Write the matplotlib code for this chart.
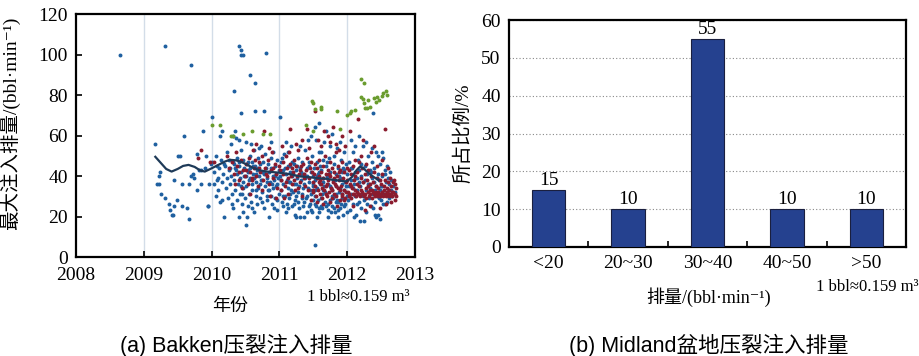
import matplotlib
matplotlib.use("Agg")
import matplotlib.pyplot as plt

plt.rcParams["font.family"] = ["Liberation Serif", "Noto Sans CJK SC", "DejaVu Serif"]

# ===== Data: (a) Bakken max injection rate by year =====
blue_points = [
    # 2008-2010
    (2008.65, 100), (2009.31, 104), (2009.69, 95), (2009.16, 56), (2009.60, 60), (2009.87, 62),
    (2009.51, 50), (2009.53, 50), (2009.78, 51), (2009.92, 50), (2009.24, 42), (2009.23, 40),
    (2009.44, 38), (2009.57, 36), (2009.66, 36), (2009.70, 40), (2009.72, 41), (2009.74, 39),
    (2009.84, 43), (2009.81, 43), (2009.85, 36), (2009.79, 33), (2009.23, 36), (2009.26, 31),
    (2009.31, 29), (2009.49, 28), (2009.45, 25), (2009.57, 25), (2009.63, 24), (2009.38, 23),
    (2009.42, 21), (2009.67, 19), (2009.94, 25), (2009.96, 36), (2009.95, 25), (2009.43, 21),
    (2009.37, 26), (2009.20, 36), (2009.90, 44), (2009.99, 46), (2010.00, 69),
    # 2010-2011
    (2010.40, 104), (2010.43, 102), (2010.46, 100), (2010.44, 100), (2010.80, 101), (2010.56, 90),
    (2010.64, 86), (2010.33, 82), (2010.44, 71), (2010.64, 72), (2010.77, 72), (2010.50, 16),
    (2010.18, 20), (2010.40, 20), (2010.08, 45), (2010.08, 38),
    (2010.01, 47), (2010.03, 36), (2010.04, 42), (2010.06, 30), (2010.07, 50), (2010.09, 39),
    (2010.10, 33), (2010.11, 44), (2010.13, 27), (2010.14, 48), (2010.15, 37), (2010.17, 41),
    (2010.19, 46), (2010.21, 34), (2010.22, 52), (2010.23, 39), (2010.24, 29), (2010.26, 43),
    (2010.27, 36), (2010.28, 56), (2010.29, 40), (2010.30, 31), (2010.31, 47), (2010.32, 24),
    (2010.33, 38), (2010.34, 44), (2010.35, 33), (2010.36, 59), (2010.37, 41), (2010.38, 28),
    (2010.38, 49), (2010.39, 36), (2010.41, 45), (2010.42, 39), (2010.42, 31), (2010.43, 53),
    (2010.44, 42), (2010.45, 26), (2010.46, 37), (2010.47, 48), (2010.47, 34), (2010.48, 44),
    (2010.49, 29), (2010.50, 40), (2010.51, 57), (2010.51, 35), (2010.52, 46), (2010.53, 25),
    (2010.54, 42), (2010.55, 38), (2010.55, 31), (2010.56, 50), (2010.57, 44), (2010.58, 27),
    (2010.59, 36), (2010.59, 47), (2010.60, 33), (2010.61, 41), (2010.62, 22), (2010.63, 39),
    (2010.63, 53), (2010.64, 45), (2010.65, 30), (2010.66, 37), (2010.67, 43), (2010.67, 26),
    (2010.68, 49), (2010.69, 34), (2010.70, 40), (2010.71, 46), (2010.71, 29), (2010.72, 36),
    (2010.73, 55), (2010.74, 42), (2010.75, 32), (2010.75, 38), (2010.76, 47), (2010.77, 24),
    (2010.78, 41), (2010.79, 35), (2010.79, 51), (2010.80, 44), (2010.81, 28), (2010.82, 39),
    (2010.83, 33), (2010.83, 46), (2010.84, 20), (2010.85, 42), (2010.86, 37), (2010.87, 49),
    (2010.87, 30), (2010.88, 44), (2010.89, 26), (2010.90, 40), (2010.91, 34), (2010.91, 52),
    (2010.92, 38), (2010.93, 45), (2010.94, 29), (2010.95, 41), (2010.95, 35), (2010.96, 48),
    (2010.97, 23), (2010.98, 39), (2010.99, 43), (2010.99, 31),
    (2010.20, 45), (2010.25, 48), (2010.27, 44), (2010.33, 46), (2010.36, 43), (2010.40, 47),
    (2010.44, 35), (2010.48, 40), (2010.53, 43), (2010.57, 39), (2010.61, 45), (2010.65, 41),
    (2010.69, 44), (2010.73, 38), (2010.77, 42), (2010.81, 37), (2010.85, 33), (2010.89, 36),
    (2010.93, 40), (2010.97, 36), (2010.12, 60), (2010.16, 62), (2010.32, 60), (2010.35, 62),
    (2010.41, 58), (2010.58, 56), (2010.70, 54), (2010.88, 57), (2010.15, 28), (2010.46, 22),
    (2010.52, 20), (2010.74, 27), (2010.92, 24), (2010.60, 24), (2010.30, 26), (2010.82, 30),
    (2010.96, 28), (2010.45, 31), (2010.66, 33), (2010.54, 47),
    # 2011-2011.5
    (2011.01, 69), (2011.01, 40), (2011.02, 33), (2011.03, 47), (2011.04, 27), (2011.05, 43),
    (2011.06, 36), (2011.07, 51), (2011.08, 30), (2011.09, 41), (2011.10, 22), (2011.11, 38),
    (2011.12, 45), (2011.13, 34), (2011.14, 29), (2011.15, 42), (2011.16, 37), (2011.17, 55),
    (2011.18, 25), (2011.19, 40), (2011.20, 32), (2011.21, 46), (2011.22, 36), (2011.23, 21),
    (2011.24, 43), (2011.25, 30), (2011.26, 39), (2011.27, 49), (2011.28, 27), (2011.29, 35),
    (2011.30, 44), (2011.31, 20), (2011.32, 38), (2011.33, 31), (2011.34, 47), (2011.35, 25),
    (2011.36, 41), (2011.37, 36), (2011.38, 53), (2011.39, 29), (2011.40, 40), (2011.41, 22),
    (2011.42, 34), (2011.43, 45), (2011.44, 37), (2011.45, 26), (2011.46, 42), (2011.47, 31),
    (2011.48, 50), (2011.49, 35), (2011.50, 28), (2011.02, 38), (2011.05, 30), (2011.08, 44),
    (2011.11, 26), (2011.14, 37), (2011.17, 33), (2011.20, 41), (2011.23, 28), (2011.26, 45),
    (2011.29, 24), (2011.32, 42), (2011.35, 34), (2011.38, 39), (2011.41, 30), (2011.44, 47),
    (2011.47, 23), (2011.04, 49), (2011.09, 57), (2011.13, 24), (2011.19, 47), (2011.22, 26),
    (2011.28, 32), (2011.33, 41), (2011.37, 27), (2011.40, 44), (2011.45, 33), (2011.49, 40),
    (2011.06, 25), (2011.16, 31), (2011.25, 36), (2011.34, 29), (2011.43, 25), (2011.12, 52),
    (2011.30, 55), (2011.42, 58), (2011.46, 60), (2011.24, 20), (2011.36, 20), (2011.48, 22),
    (2011.15, 45),
    # 2011.5-2012
    (2011.53, 6), (2011.51, 44), (2011.52, 30), (2011.53, 38), (2011.54, 25), (2011.55, 47),
    (2011.56, 34), (2011.57, 41), (2011.58, 22), (2011.59, 52), (2011.60, 36), (2011.61, 29),
    (2011.62, 43), (2011.63, 24), (2011.64, 39), (2011.65, 33), (2011.66, 57), (2011.67, 27),
    (2011.68, 45), (2011.69, 31), (2011.70, 40), (2011.71, 23), (2011.72, 36), (2011.73, 49),
    (2011.74, 28), (2011.75, 42), (2011.76, 34), (2011.77, 61), (2011.78, 25), (2011.79, 38),
    (2011.80, 46), (2011.81, 30), (2011.82, 22), (2011.83, 41), (2011.84, 35), (2011.85, 54),
    (2011.86, 27), (2011.87, 44), (2011.88, 32), (2011.89, 24), (2011.90, 39), (2011.91, 48),
    (2011.92, 29), (2011.93, 36), (2011.94, 21), (2011.95, 43), (2011.96, 33), (2011.97, 26),
    (2011.98, 46), (2011.99, 30), (2011.50, 36), (2011.52, 26), (2011.55, 40), (2011.57, 28),
    (2011.60, 45), (2011.62, 25), (2011.65, 37), (2011.67, 32), (2011.70, 47), (2011.72, 26),
    (2011.75, 35), (2011.77, 30), (2011.80, 24), (2011.82, 38), (2011.85, 28), (2011.87, 23),
    (2011.90, 34), (2011.92, 42), (2011.95, 25), (2011.97, 37), (2011.99, 22), (2011.53, 33),
    (2011.58, 42), (2011.63, 31), (2011.68, 25), (2011.73, 41), (2011.78, 33), (2011.83, 27),
    (2011.88, 40), (2011.93, 31), (2011.98, 35), (2011.54, 58), (2011.61, 52), (2011.69, 62),
    (2011.74, 55), (2011.81, 50), (2011.89, 57), (2011.96, 52), (2011.56, 20), (2011.71, 20),
    (2011.86, 20), (2011.64, 48), (2011.79, 29), (2011.94, 44), (2011.59, 24), (2011.76, 22),
    (2011.91, 26), (2011.66, 35), (2011.84, 31), (2011.52, 64), (2011.58, 66),
    # 2012-2012.7
    (2012.00, 41), (2012.01, 28), (2012.02, 35), (2012.03, 47), (2012.04, 23), (2012.05, 38),
    (2012.06, 31), (2012.07, 44), (2012.08, 26), (2012.09, 52), (2012.10, 36), (2012.11, 30),
    (2012.12, 42), (2012.13, 21), (2012.14, 39), (2012.15, 33), (2012.16, 48), (2012.17, 27),
    (2012.18, 43), (2012.19, 35), (2012.20, 24), (2012.21, 40), (2012.22, 31), (2012.23, 55),
    (2012.24, 37), (2012.25, 28), (2012.26, 45), (2012.27, 33), (2012.28, 22), (2012.29, 41),
    (2012.30, 36), (2012.31, 50), (2012.32, 29), (2012.33, 43), (2012.34, 34), (2012.35, 25),
    (2012.36, 39), (2012.37, 47), (2012.38, 31), (2012.39, 37), (2012.40, 44), (2012.41, 27),
    (2012.42, 35), (2012.43, 52), (2012.44, 30), (2012.45, 41), (2012.46, 21), (2012.47, 38),
    (2012.48, 33), (2012.49, 46), (2012.50, 28), (2012.51, 40), (2012.52, 35), (2012.53, 49),
    (2012.54, 31), (2012.55, 43), (2012.56, 26), (2012.57, 37), (2012.58, 45), (2012.59, 32),
    (2012.60, 39), (2012.61, 29), (2012.62, 36), (2012.63, 42), (2012.64, 33), (2012.65, 38),
    (2012.66, 30), (2012.68, 35), (2012.70, 32), (2012.02, 30), (2012.05, 44), (2012.08, 34),
    (2012.11, 39), (2012.14, 26), (2012.17, 37), (2012.20, 46), (2012.23, 30), (2012.26, 38),
    (2012.29, 26), (2012.32, 36), (2012.35, 42), (2012.38, 24), (2012.41, 33), (2012.44, 39),
    (2012.47, 29), (2012.50, 35), (2012.53, 26), (2012.56, 41), (2012.59, 27), (2012.62, 33),
    (2012.06, 58), (2012.12, 55), (2012.18, 60), (2012.27, 57), (2012.36, 54), (2012.45, 50),
    (2012.52, 52), (2012.42, 20), (2012.48, 19), (2012.10, 20), (2012.19, 18), (2012.25, 18),
    (2012.41, 21), (2012.38, 71),
]

red_points = [
    (2009.84, 53), (2009.98, 47), (2009.80, 49), (2010.03, 47),
    # 2010-2011
    (2010.22, 50), (2010.26, 44), (2010.30, 47), (2010.33, 41), (2010.36, 52), (2010.38, 45),
    (2010.41, 38), (2010.44, 48), (2010.46, 43), (2010.49, 40), (2010.51, 46), (2010.53, 36),
    (2010.55, 49), (2010.57, 42), (2010.59, 38), (2010.61, 53), (2010.63, 44), (2010.65, 56),
    (2010.66, 40), (2010.68, 35), (2010.70, 47), (2010.72, 42), (2010.74, 50), (2010.76, 38),
    (2010.77, 62), (2010.79, 44), (2010.81, 40), (2010.83, 48), (2010.85, 36), (2010.87, 43),
    (2010.89, 52), (2010.91, 39), (2010.93, 46), (2010.95, 41), (2010.97, 34), (2010.99, 45),
    (2010.40, 42), (2010.50, 43), (2010.60, 39), (2010.70, 44), (2010.80, 41), (2010.90, 44),
    (2010.45, 34), (2010.56, 31), (2010.75, 33), (2010.86, 30), (2010.95, 29), (2010.34, 36),
    (2010.64, 48), (2010.84, 54),
    # 2011-2011.5
    (2011.01, 43), (2011.03, 38), (2011.05, 47), (2011.06, 41), (2011.08, 35), (2011.10, 50),
    (2011.11, 44), (2011.13, 39), (2011.15, 63), (2011.16, 46), (2011.18, 36), (2011.20, 42),
    (2011.21, 48), (2011.23, 33), (2011.25, 45), (2011.26, 40), (2011.28, 53), (2011.30, 37),
    (2011.31, 43), (2011.33, 30), (2011.35, 46), (2011.36, 41), (2011.38, 35), (2011.40, 49),
    (2011.41, 63), (2011.43, 39), (2011.45, 44), (2011.46, 28), (2011.48, 42), (2011.50, 37),
    (2011.02, 33), (2011.07, 29), (2011.12, 31), (2011.17, 40), (2011.22, 38), (2011.27, 34),
    (2011.32, 45), (2011.37, 39), (2011.42, 33), (2011.47, 47), (2011.04, 55), (2011.14, 52),
    (2011.24, 56), (2011.34, 58), (2011.44, 54), (2011.09, 37), (2011.19, 44), (2011.29, 41),
    (2011.39, 43), (2011.49, 32), (2011.53, 72),
    # 2011.5-2012
    (2011.51, 41), (2011.52, 35), (2011.53, 46), (2011.54, 30), (2011.55, 39), (2011.56, 44),
    (2011.57, 33), (2011.58, 48), (2011.59, 37), (2011.60, 31), (2011.61, 42), (2011.62, 36),
    (2011.63, 29), (2011.64, 45), (2011.65, 39), (2011.66, 33), (2011.67, 50), (2011.68, 41),
    (2011.69, 35), (2011.70, 30), (2011.71, 43), (2011.72, 38), (2011.73, 32), (2011.74, 47),
    (2011.75, 40), (2011.76, 34), (2011.77, 29), (2011.78, 44), (2011.79, 37), (2011.80, 31),
    (2011.81, 42), (2011.82, 36), (2011.83, 52), (2011.84, 30), (2011.85, 40), (2011.86, 34),
    (2011.87, 45), (2011.88, 38), (2011.89, 28), (2011.90, 43), (2011.91, 35), (2011.92, 31),
    (2011.93, 47), (2011.94, 39), (2011.95, 33), (2011.96, 42), (2011.97, 29), (2011.98, 37),
    (2011.99, 44), (2011.50, 33), (2011.55, 27), (2011.60, 38), (2011.65, 26), (2011.70, 36),
    (2011.75, 27), (2011.80, 39), (2011.85, 25), (2011.90, 33), (2011.95, 28), (2011.58, 40),
    (2011.63, 34), (2011.68, 31), (2011.73, 41), (2011.78, 33), (2011.83, 35), (2011.88, 42),
    (2011.93, 30), (2011.98, 32), (2011.57, 58), (2011.66, 62), (2011.72, 60), (2011.79, 64),
    (2011.84, 56), (2011.92, 60), (2011.97, 55), (2011.62, 55), (2011.75, 57), (2011.88, 53),
    # 2012-2012.72
    (2012.00, 38), (2012.01, 32), (2012.02, 43), (2012.03, 30), (2012.04, 36), (2012.05, 41),
    (2012.06, 29), (2012.07, 34), (2012.08, 45), (2012.09, 31), (2012.10, 38), (2012.11, 33),
    (2012.12, 40), (2012.13, 30), (2012.14, 36), (2012.15, 42), (2012.16, 31), (2012.17, 47),
    (2012.18, 35), (2012.19, 30), (2012.20, 39), (2012.21, 33), (2012.22, 44), (2012.23, 31),
    (2012.24, 37), (2012.25, 30), (2012.26, 41), (2012.27, 34), (2012.28, 29), (2012.29, 38),
    (2012.30, 32), (2012.31, 43), (2012.32, 30), (2012.33, 36), (2012.34, 31), (2012.35, 40),
    (2012.36, 33), (2012.37, 29), (2012.38, 37), (2012.39, 31), (2012.40, 42), (2012.41, 30),
    (2012.42, 35), (2012.43, 32), (2012.44, 39), (2012.45, 30), (2012.46, 34), (2012.47, 31),
    (2012.48, 38), (2012.49, 30), (2012.50, 36), (2012.51, 32), (2012.52, 41), (2012.53, 30),
    (2012.54, 35), (2012.55, 31), (2012.56, 38), (2012.57, 30), (2012.58, 34), (2012.59, 31),
    (2012.60, 37), (2012.61, 30), (2012.62, 33), (2012.63, 39), (2012.64, 31), (2012.65, 35),
    (2012.66, 30), (2012.67, 37), (2012.68, 32), (2012.69, 38), (2012.70, 31), (2012.71, 36),
    (2012.72, 34), (2012.72, 30), (2012.70, 28), (2012.02, 31), (2012.06, 35), (2012.10, 31),
    (2012.14, 32), (2012.18, 31), (2012.22, 32), (2012.26, 31), (2012.30, 35), (2012.34, 33),
    (2012.38, 32), (2012.42, 31), (2012.46, 32), (2012.50, 31), (2012.54, 33), (2012.58, 32),
    (2012.62, 31), (2012.66, 32), (2012.12, 48), (2012.20, 50), (2012.28, 46), (2012.35, 52),
    (2012.44, 45), (2012.52, 48), (2012.60, 44), (2012.16, 68), (2012.04, 62), (2012.24, 58),
    (2012.40, 55), (2012.56, 63), (2012.08, 25), (2012.26, 23), (2012.33, 25), (2012.48, 24),
    (2012.57, 26), (2012.64, 27),
]

green_points = [
    (2010.01, 65), (2010.12, 65), (2010.29, 60), (2010.32, 60), (2010.47, 61), (2010.60, 62),
    (2010.76, 61), (2010.86, 61), (2011.48, 77), (2011.50, 76), (2011.52, 73), (2011.62, 74),
    (2011.62, 73), (2011.39, 65), (2011.50, 62), (2011.85, 72), (2011.90, 63), (2011.99, 70),
    (2012.06, 72), (2012.20, 88), (2012.25, 86), (2012.21, 79), (2012.23, 78), (2012.25, 76),
    (2012.29, 73.5), (2012.34, 74), (2012.31, 77.6), (2012.39, 78.4), (2012.44, 79),
    (2012.51, 79.6), (2012.53, 81.2), (2012.57, 82.2), (2012.58, 80.2), (2012.47, 77.6),
    (2012.26, 73.5), (2012.11, 72.7), (2012.04, 71), (2012.42, 76.8),
]

trend_year = [2009.17, 2009.25, 2009.33, 2009.41, 2009.50, 2009.58, 2009.66, 2009.75, 2009.83,
              2009.90, 2010.00, 2010.10, 2010.20, 2010.27, 2010.35, 2010.42, 2010.50, 2010.62,
              2010.72, 2010.81, 2010.95, 2011.06, 2011.20, 2011.30, 2011.45, 2011.55, 2011.70,
              2011.80, 2011.92, 2011.99, 2012.07, 2012.14, 2012.19, 2012.24, 2012.29, 2012.37,
              2012.46]
trend_rate = [49.5, 46.5, 43.5, 42.2, 43.5, 45.0, 45.5, 44.5, 42.8, 42.2, 43.8, 45.5, 47.2,
              48.0, 47.8, 47.2, 46.0, 43.9, 42.8, 42.2, 41.8, 41.4, 40.6, 39.8, 39.4, 39.0,
              38.6, 38.1, 37.6, 37.3, 39.5, 43.0, 44.7, 43.8, 42.2, 40.0, 38.1]

# ===== Data: (b) Midland rate distribution =====
rate_bins = ["<20", "20~30", "30~40", "40~50", ">50"]
share_pct = [15, 10, 55, 10, 10]

fig = plt.figure(figsize=(9.2, 3.56), dpi=100)

# ----- (a) scatter -----
ax1 = fig.add_axes([0.0826, 0.278, 0.3685, 0.6826])
for pts, col in [(blue_points, "#1f60a0"), (red_points, "#8a1b2e"), (green_points, "#6a9c2e")]:
    xs, ys = zip(*pts)
    ax1.scatter(xs, ys, s=8, color=col, linewidths=0, zorder=3)
ax1.plot(trend_year, trend_rate, color="#1e3a58", lw=1.6, zorder=4)

ax1.set_xlim(2008, 2013)
ax1.set_ylim(0, 120)
ax1.set_xticks(range(2008, 2014))
ax1.set_yticks(range(0, 121, 20))
for yr in range(2009, 2013):
    ax1.axvline(yr, color="#d3dde8", lw=1.0, zorder=1)
ax1.tick_params(direction="in", length=4, width=1.2, labelsize=14)
ax1.tick_params(axis="x", pad=7)
ax1.tick_params(axis="y", pad=6)
for sp in ax1.spines.values():
    sp.set_linewidth(1.6)
ax1.set_ylabel("最大注入排量/(bbl·min⁻¹)", fontsize=14)
ax1.yaxis.set_label_coords(-0.165, 0.55)

fig.text(0.25, 0.138, "年份", ha="center", va="center", fontsize=13)
fig.text(0.445, 0.165, "1 bbl≈0.159 m³", ha="right", va="center", fontsize=12)

# ----- (b) bars -----
ax2 = fig.add_axes([0.5533, 0.3062, 0.4315, 0.6376])
pos = range(len(rate_bins))
bars = ax2.bar(pos, share_pct, width=0.42, color="#25418f", edgecolor="#1a1f3f", lw=0.8, zorder=3)
for b, v in zip(bars, share_pct):
    ax2.text(b.get_x() + b.get_width() / 2, v + 0.3, str(v), ha="center", va="bottom", fontsize=14)

ax2.set_xlim(-0.5, len(rate_bins) - 0.5)
ax2.set_ylim(0, 60)
ax2.set_yticks(range(0, 61, 10))
ax2.set_xticks(list(pos))
ax2.set_xticklabels(rate_bins)
ax2.set_xticks([p + 0.5 for p in range(len(rate_bins) - 1)], minor=True)
ax2.yaxis.grid(True, linestyle=(0, (1, 2)), color="#888888", lw=0.8, zorder=1)
ax2.tick_params(axis="x", which="major", length=0, labelsize=14, pad=6)
ax2.tick_params(axis="x", which="minor", direction="in", length=4, width=1.2)
ax2.tick_params(axis="y", direction="in", length=0, labelsize=14, pad=6)
for sp in ax2.spines.values():
    sp.set_linewidth(1.6)
ax2.set_ylabel("所占比例/%", fontsize=14, labelpad=6)

fig.text(0.77, 0.165, "排量/(bbl·min⁻¹)", ha="center", va="center", fontsize=13)
fig.text(0.998, 0.193, "1 bbl≈0.159 m³", ha="right", va="center", fontsize=12)

# subfigure captions
cap_font = ["Liberation Sans", "Noto Sans CJK SC"]
fig.text(0.257, 0.031, "(a) Bakken压裂注入排量", ha="center", va="center", fontsize=15.5, family=cap_font)
fig.text(0.770, 0.031, "(b) Midland盆地压裂注入排量", ha="center", va="center", fontsize=15.5, family=cap_font)

fig.savefig("out.png", dpi=100)
